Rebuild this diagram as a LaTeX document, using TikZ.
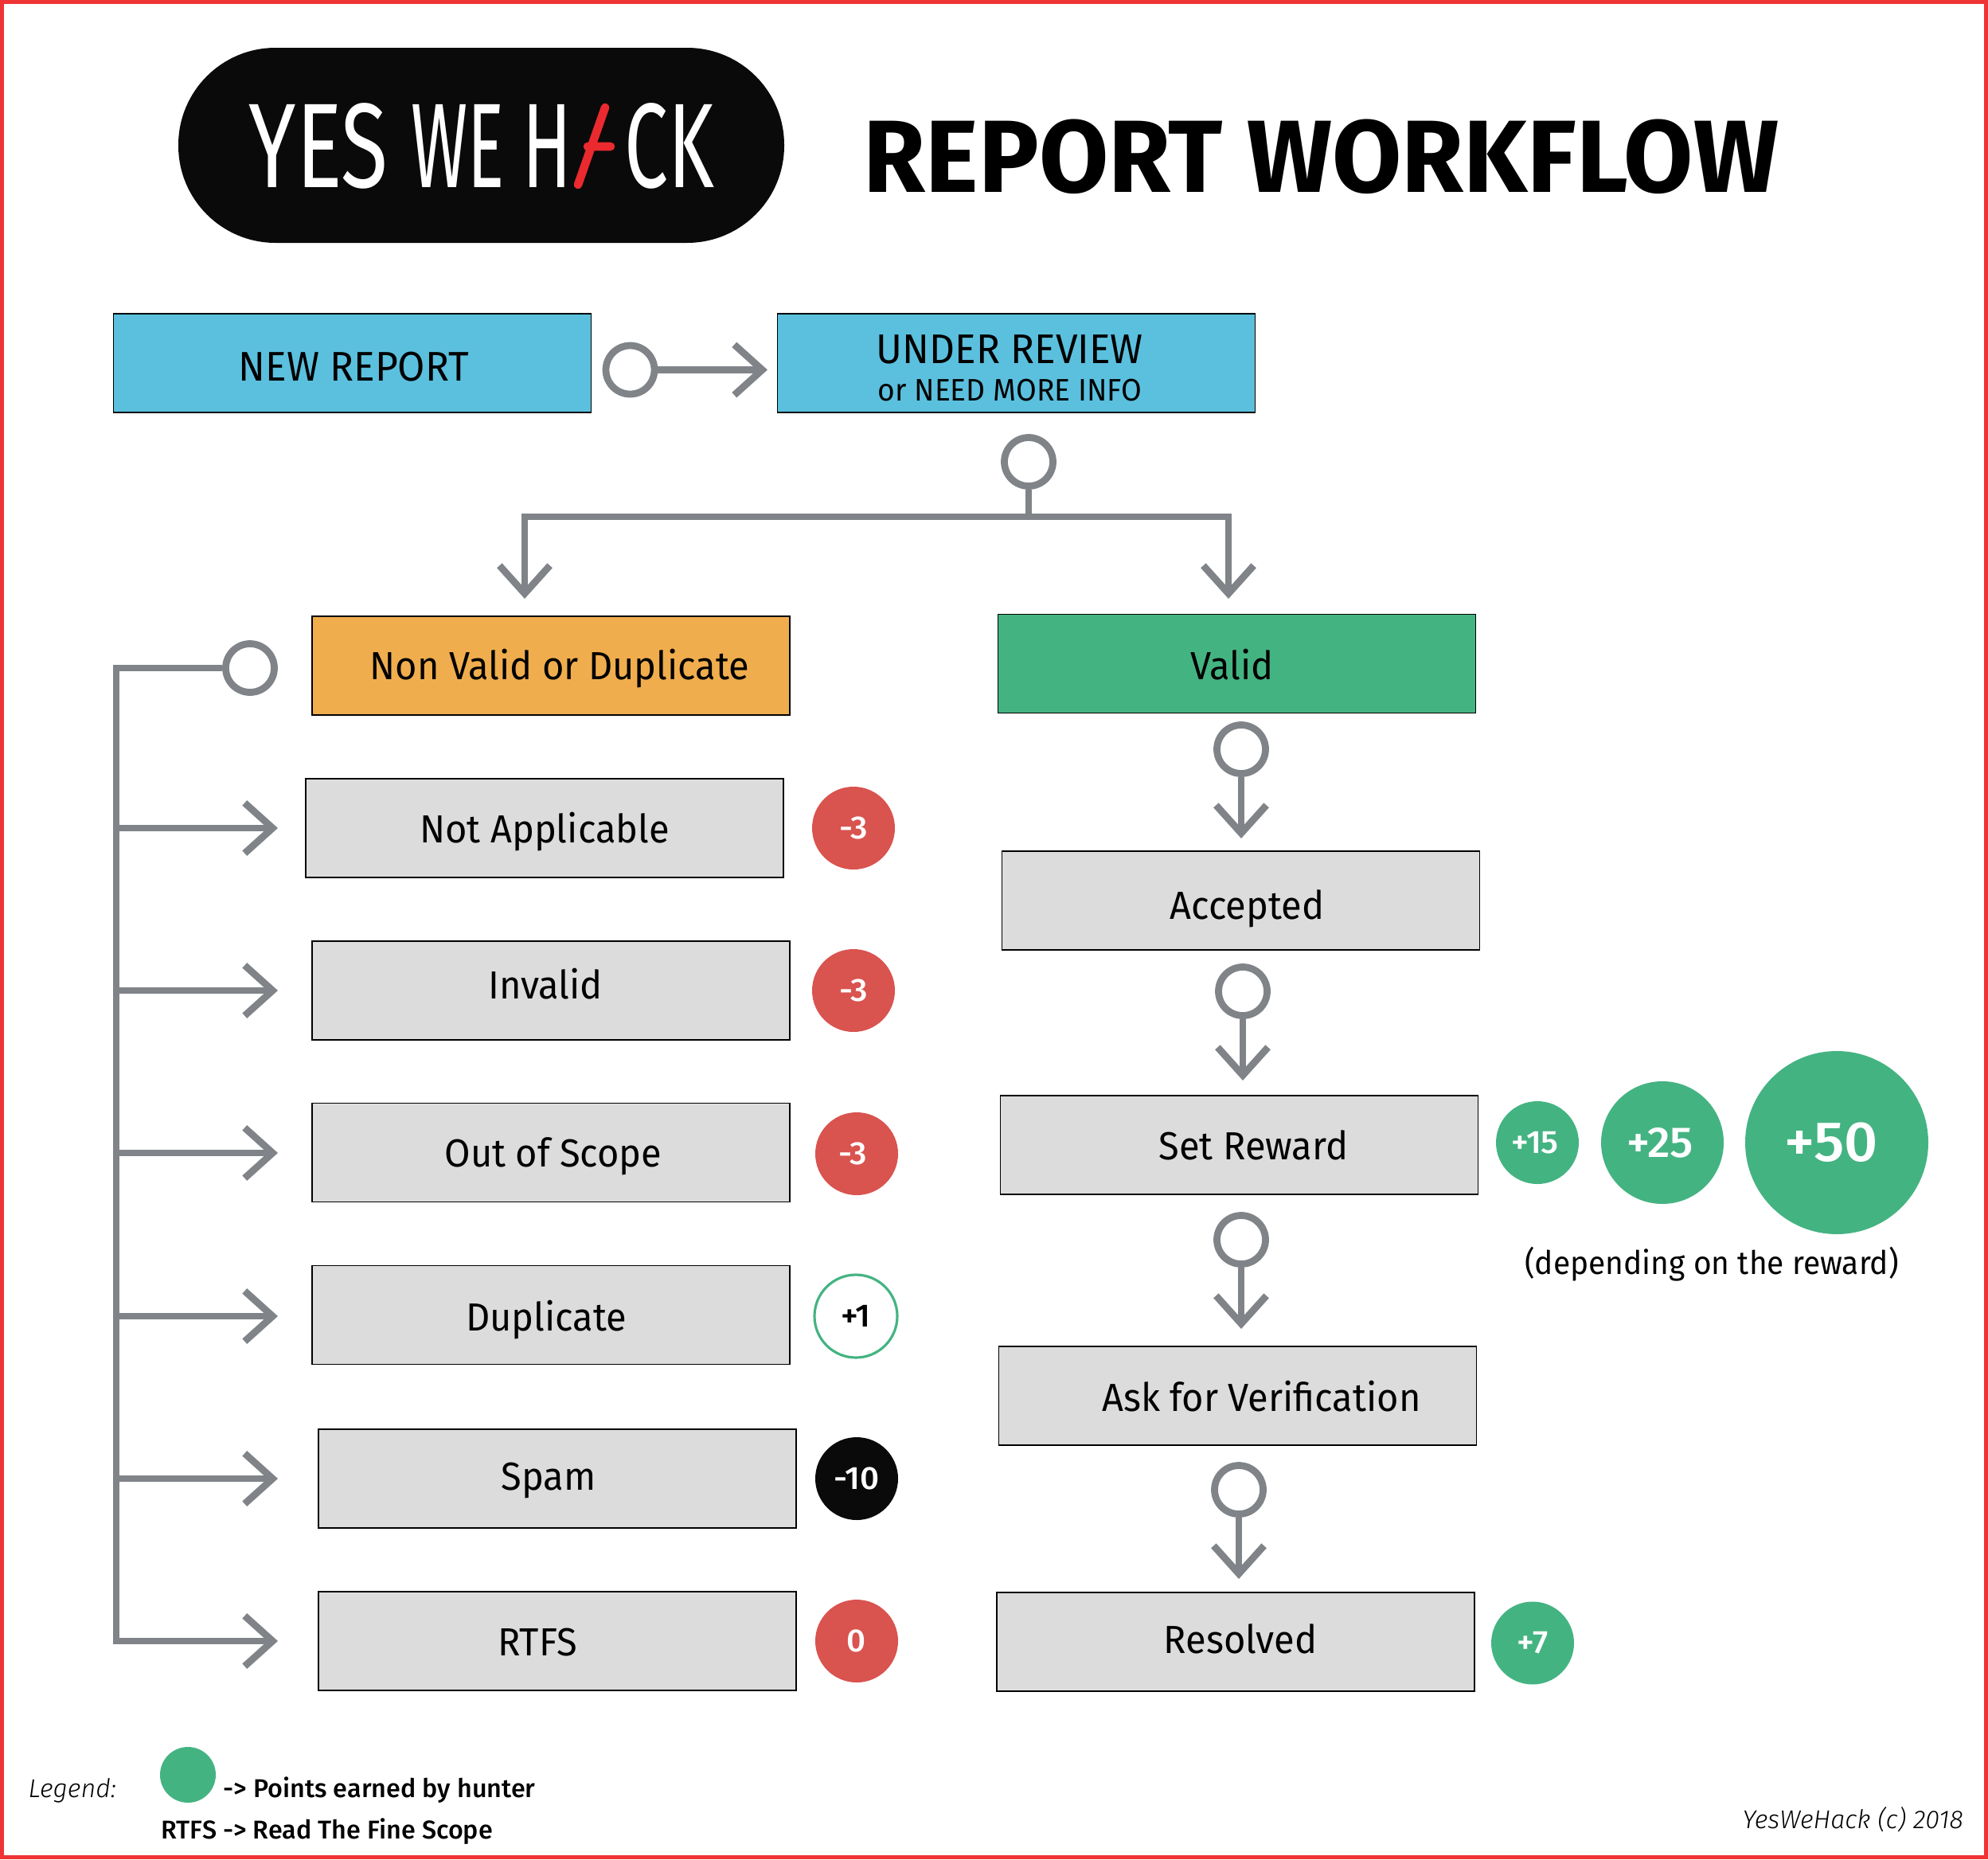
\documentclass[tikz,border=0pt]{standalone}
\usepackage{fontspec}
\usetikzlibrary{arrows.meta}
\setmainfont[FakeStretch=0.955]{Fira Sans}
\newfontfamily\logofont[FakeStretch=0.6]{Fira Sans}
\newfontfamily\titlefont[FakeStretch=0.98]{Fira Sans Bold}
\newfontfamily\medfont[FakeStretch=1.04]{Fira Sans Medium}
\newfontfamily\notefont[FakeStretch=1.0]{Fira Sans Medium}
\newfontfamily\slantfont[FakeStretch=1.0]{Fira Sans Light Italic}
\definecolor{framered}{HTML}{EE3434}
\definecolor{hackred}{HTML}{EA2A2E}
\definecolor{nearblack}{HTML}{0A0A0A}
\definecolor{reviewblue}{HTML}{5BC0DE}
\definecolor{rejectorange}{HTML}{F0AD4E}
\definecolor{validgreen}{HTML}{44B382}
\definecolor{stategrey}{HTML}{DCDCDC}
\definecolor{minusred}{HTML}{D9534F}
\definecolor{flowgrey}{HTML}{808488}
\newcommand{\boxlabel}[3]{\hspace*{#1}\raisebox{#2}[0pt][0pt]{#3}}
\tikzset{
  statebox/.style={draw=black,line width=.45pt,minimum width=6cm,minimum height=1.24cm,inner sep=0pt,
    font=\fontsize{14}{13.1}\selectfont},
  ring/.style={circle,draw=flowgrey,line width=2.5pt,fill=white,minimum size=.61cm,inner sep=0pt},
  flow/.style={draw=flowgrey,line width=2.5pt,-{Straight Barb[length=10pt,width=18pt]}},
  rail/.style={draw=flowgrey,line width=2.5pt},
  badge/.style={circle,minimum size=1.04cm,inner sep=0pt,text=white,font=\medfont\fontsize{11.5}{13}\selectfont},
  logotext/.style={anchor=base west,inner sep=0pt,text=white,font=\logofont\fontsize{43}{45}\selectfont},
  note/.style={anchor=base west,inner sep=0pt,font=\notefont\fontsize{9.2}{11}\selectfont},
  slanted/.style={anchor=base west,inner sep=0pt,font=\slantfont\fontsize{9.2}{11}\selectfont}
}
\begin{document}
\begin{tikzpicture}[y=-1cm]
\useasboundingbox (0,0) rectangle (24.97,23.35);
\draw[framered,line width=1.4pt] (.025,.025) rectangle (24.945,23.325);

\node[fill=nearblack,minimum width=7.61cm,minimum height=2.45cm,rounded corners=1.22cm] (logo) at (6.045,1.825) {};
\node[logotext] (logoyes) at (3.12,2.35) {\scalebox{1.19}[1]{YES}};
\node[logotext] (logowe) at (5.16,2.35) {\scalebox{.95}[1]{WE}};
\node[logotext] (logoh) at (6.56,2.35) {H};
\node[logotext] (logock) at (7.84,2.35) {\scalebox{1.08}[1]{CK}};
\draw[hackred,line width=3pt,line cap=round] (7.26,2.32) -- (7.6,1.35) (7.38,1.84) -- (7.67,1.84);
\node[anchor=base west,inner sep=0pt,font=\titlefont\fontsize{36.7}{40}\selectfont] (title) at (10.84,2.41) {REPORT WORKFLOW};

\node[statebox,fill=reviewblue,font=\fontsize{14.8}{13.1}\selectfont] (newreport) at (4.425,4.56) {\boxlabel{.04cm}{-.22cm}{NEW REPORT}};
\node[statebox,fill=reviewblue,font=\fontsize{14.8}{13.1}\selectfont] (underreview) at (12.765,4.56) {\boxlabel{-.16cm}{-.47cm}{\begin{tabular}[b]{@{}c@{}}UNDER REVIEW\\{\fontsize{11.1}{13.1}\selectfont or NEED MORE INFO}\end{tabular}}};
\node[statebox,fill=rejectorange] (nonvalid) at (6.92,8.36) {\boxlabel{.22cm}{-.175cm}{Non Valid or Duplicate}};
\node[statebox,fill=validgreen] (valid) at (15.535,8.335) {\boxlabel{-.12cm}{-.2cm}{Valid}};
\node[statebox,fill=stategrey] (notapplicable) at (6.84,10.4) {\boxlabel{0cm}{-.18cm}{Not Applicable}};
\node[statebox,fill=stategrey] (invalid) at (6.92,12.44) {\boxlabel{-.14cm}{-.1cm}{Invalid}};
\node[statebox,fill=stategrey] (outofscope) at (6.92,14.475) {\boxlabel{.06cm}{-.175cm}{Out of Scope}};
\node[statebox,fill=stategrey] (duplicate) at (6.92,16.515) {\boxlabel{-.12cm}{-.2cm}{Duplicate}};
\node[statebox,fill=stategrey] (spam) at (7,18.57) {\boxlabel{-.22cm}{-.14cm}{Spam}};
\node[statebox,fill=stategrey] (rtfs) at (7,20.61) {\boxlabel{-.5cm}{-.18cm}{RTFS}};
\node[statebox,fill=stategrey] (accepted) at (15.585,11.31) {\boxlabel{.16cm}{-.23cm}{Accepted}};
\node[statebox,fill=stategrey] (setreward) at (15.565,14.38) {\boxlabel{.36cm}{-.18cm}{Set Reward}};
\node[statebox,fill=stategrey] (askverif) at (15.545,17.53) {\boxlabel{.6cm}{-.19cm}{Ask for Verification}};
\node[statebox,fill=stategrey] (resolved) at (15.52,20.62) {\boxlabel{.12cm}{-.14cm}{Resolved}};

\node[ring] (ringnew) at (7.915,4.645) {};
\node[ring] (ringreview) at (12.92,5.8) {};
\node[ring] (ringnonvalid) at (3.14,8.39) {};
\node[ring] (ringvalid) at (15.59,9.41) {};
\node[ring] (ringaccepted) at (15.61,12.45) {};
\node[ring] (ringreward) at (15.59,15.57) {};
\node[ring] (ringverif) at (15.56,18.71) {};

\coordinate (tipreview) at (9.64,4.645);
\coordinate (tee) at (12.92,6.49);
\coordinate (tipnonvalid) at (6.59,7.52);
\coordinate (tipvalid) at (15.43,7.52);
\coordinate (tipaccepted) at (15.59,10.53);
\coordinate (tipreward) at (15.61,13.57);
\coordinate (tipverif) at (15.59,16.69);
\coordinate (tipresolved) at (15.56,19.83);
\coordinate (railtop) at (1.46,8.39);

\draw[flow] (ringnew) -- (tipreview);
\draw[rail] (ringreview) -- (tee);
\draw[flow] (tee) -| (tipnonvalid);
\draw[flow] (tee) -| (tipvalid);
\draw[flow] (ringvalid) -- (tipaccepted);
\draw[flow] (ringaccepted) -- (tipreward);
\draw[flow] (ringreward) -- (tipverif);
\draw[flow] (ringverif) -- (tipresolved);

\foreach \tipname/\y in {tipnotapp/10.4,tipinvalid/12.44,tipscope/14.48,tipdup/16.53,tipspam/18.57}
  \coordinate (\tipname) at (3.49,\y);
\coordinate (tiprtfs) at (3.49,20.61);
\draw[flow] (ringnonvalid) -- (railtop) |- (tiprtfs);
\foreach \tipname in {tipnotapp,tipinvalid,tipscope,tipdup,tipspam}
  \draw[flow] (railtop |- \tipname) -- (\tipname);

\node[badge,fill=minusred] (ptsnotapp) at (10.72,10.4) {-3};
\node[badge,fill=minusred] (ptsinvalid) at (10.72,12.44) {-3};
\node[badge,fill=minusred] (ptsscope) at (10.76,14.49) {\hspace*{-.1cm}-3};
\node[badge,draw=validgreen,fill=white,text=black,line width=.9pt] (ptsdup) at (10.75,16.53) {+1};
\node[badge,fill=nearblack] (ptsspam) at (10.76,18.57) {-10};
\node[badge,fill=minusred] (ptsrtfs) at (10.76,20.61) {0};
\node[badge,fill=validgreen] (ptsfifteen) at (19.31,14.35) {\hspace*{-.06cm}+15};
\node[badge,fill=validgreen,minimum size=1.54cm,font=\medfont\fontsize{15.4}{17}\selectfont] (ptstwentyfive) at (20.88,14.35) {\hspace*{-.06cm}+25};
\node[badge,fill=validgreen,minimum size=2.3cm,font=\medfont\fontsize{20.2}{22}\selectfont] (ptsfifty) at (23.07,14.35) {\hspace*{-.14cm}+50};
\node[badge,fill=validgreen] (ptsresolved) at (19.25,20.635) {+7};

\node[anchor=base,inner sep=0pt,font=\fontsize{11.6}{14}\selectfont] (depending) at (21.5,16) {(depending on the reward)};

\node[slanted] (legend) at (.35,22.57) {Legend:};
\node[circle,fill=validgreen,minimum size=.7cm,inner sep=0pt] (legendpt) at (2.36,22.29) {};
\node[note] (legendone) at (2.8,22.57) {-> Points earned by hunter};
\node[note] (legendtwo) at (2.02,23.09) {RTFS -> Read The Fine Scope};
\node[slanted] (copyright) at (21.88,22.96) {YesWeHack (c) 2018};
\end{tikzpicture}
\end{document}
